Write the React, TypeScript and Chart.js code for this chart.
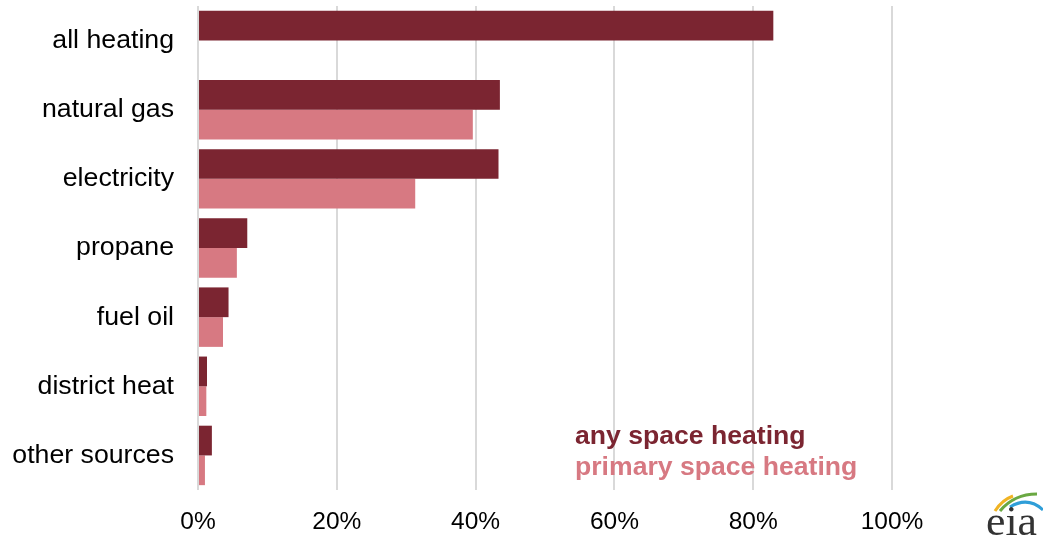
import React, { useEffect, useRef } from "react";
import { Chart, registerables } from "chart.js";

Chart.register(...registerables);

const categories = ["all heating", "natural gas", "electricity", "propane", "fuel oil", "district heat", "other sources"];
const anySpaceHeating = [82.9, 43.5, 43.3, 7.1, 4.4, 1.3, 2.0];
const primarySpaceHeating = [null, 39.6, 31.3, 5.6, 3.6, 1.2, 1.0];
const xTicks = [0, 20, 40, 60, 80, 100];

const DARK = "#7b2531";
const PINK = "#d77982";
const FONT = "'Liberation Sans', Arial, sans-serif";

export default function App() {
  const ref = useRef<HTMLCanvasElement | null>(null);
  useEffect(() => {
    document.body.style.margin = "0";
    const chart = new Chart(ref.current as HTMLCanvasElement, {
      type: "bar",
      data: {
        labels: categories,
        datasets: [
          { label: "any space heating", data: anySpaceHeating, backgroundColor: DARK, barPercentage: 1, categoryPercentage: 0.86 },
          { label: "primary space heating", data: primarySpaceHeating as any, backgroundColor: PINK, barPercentage: 1, categoryPercentage: 0.86 },
        ],
      },
      options: {
        indexAxis: "y",
        animation: false,
        responsive: false,
        layout: { padding: { top: 6, right: 151, left: 0, bottom: 0 } },
        plugins: { legend: { display: false }, tooltip: { enabled: false } },
        scales: {
          x: {
            min: 0,
            max: 100,
            afterBuildTicks: (s: any) => { s.ticks = xTicks.map((v) => ({ value: v })); },
            afterFit: (s: any) => { s.height = 50; s.paddingLeft = 0; s.paddingRight = 0; },
            grid: { color: "#d9d9d9", lineWidth: 2, drawTicks: false },
            border: { display: false },
            ticks: { color: "#000", font: { family: FONT, size: 24.5 }, padding: 18, callback: (v: any) => v + "%" },
          },
          y: {
            afterFit: (s: any) => { s.width = 198; s.paddingTop = 0; s.paddingBottom = 0; },
            grid: { display: false, drawTicks: false },
            border: { display: false },
            ticks: { color: "#000", font: { family: FONT, size: 26.7 }, padding: 24 },
          },
        },
      },
    });
    return () => chart.destroy();
  }, []);
  return (
    <div style={{ position: "fixed", left: 0, top: 0, width: 1043, height: 540, background: "#fff", overflow: "hidden" }}>
      <canvas ref={ref} width={1043} height={540} style={{ width: 1043, height: 540 }} />
      <div style={{ position: "absolute", left: 575, top: 420, fontFamily: FONT, fontWeight: "bold", fontSize: 26.6, lineHeight: "31px", whiteSpace: "nowrap" }}>
        <div style={{ color: DARK }}>any space heating</div>
        <div style={{ color: PINK }}>primary space heating</div>
      </div>
      <svg style={{ position: "absolute", left: 970, top: 480 }} width={73} height={60} viewBox="0 0 73 60">
        <path d="M25 31 Q 32 20 43 16" stroke="#f0b323" strokeWidth={3} fill="none" />
        <path d="M30 31 Q 44 14 67 14" stroke="#6aa842" strokeWidth={3} fill="none" />
        <path d="M40 27 Q 58 16 73 30" stroke="#2f9ed8" strokeWidth={3} fill="none" />
        <text x={16} y={55} fontFamily="'Liberation Serif', 'DejaVu Serif', serif" fontSize={42} fill="#333" textLength={51} lengthAdjust="spacingAndGlyphs">eia</text>
      </svg>
    </div>
  );
}
